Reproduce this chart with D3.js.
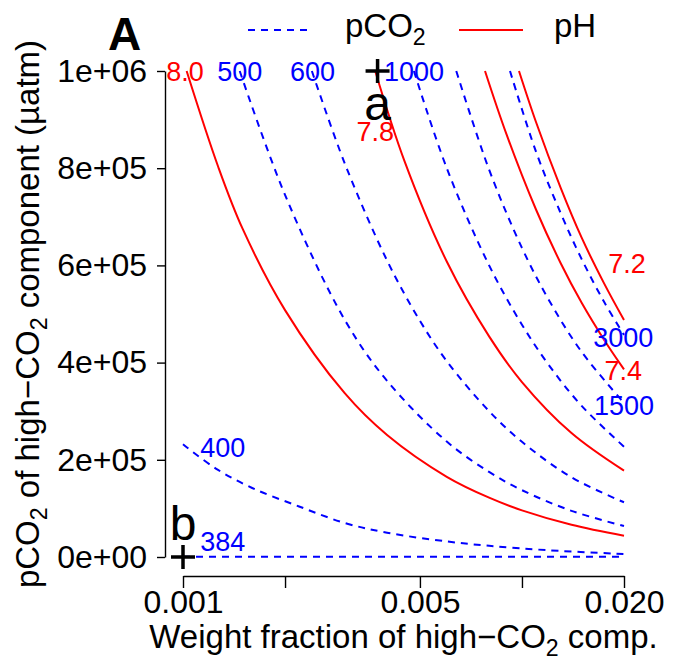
<!DOCTYPE html>
<html>
<head>
<meta charset="utf-8">
<script src="https://cdn.jsdelivr.net/npm/d3@7"></script>
<style>
  body { margin: 0; background: #fff; }
  svg { display: block; }
  text { font-family: "Liberation Sans", Arial, Helvetica, sans-serif; white-space: pre; }
</style>
</head>
<body>
<div id="my_dataviz"></div>
<script>
// axis ticks and labels
const xTicks = [0.001, 0.002, 0.005, 0.01, 0.02];
const xTickLabels = ["0.001", "", "0.005", "", "0.020"];
const yTicks = [0, 200000, 400000, 600000, 800000, 1000000];
const yTickLabels = ["0e+00", "2e+05", "4e+05", "6e+05", "8e+05", "1e+06"];

// pCO2 contours (weight fraction, pCO2 of high-CO2 component)
const w384 = [0.001, 0.02];
const p384 = [384, 384];
const w400 = [0.001, 0.00125, 0.0016, 0.0022, 0.003, 0.004, 0.006, 0.008, 0.012, 0.02];
const p400 = [232000, 182000, 142000, 104000, 70000, 50000, 32000, 23000, 13800, 6200];
const w500 = [0.00147, 0.002, 0.003, 0.004, 0.006, 0.008, 0.01, 0.014, 0.02];
const p500 = [1000000, 745000, 488000, 362500, 237500, 175000, 137500, 95000, 63800];
const w600 = [0.0024, 0.003, 0.004, 0.005, 0.006, 0.008, 0.01, 0.014, 0.02];
const p600 = [1000000, 810000, 610000, 486000, 403000, 300000, 237000, 164000, 112600];
const w1000 = [0.0048, 0.006, 0.008, 0.01, 0.012, 0.015, 0.02];
const p1000 = [1000000, 800000, 600000, 478000, 395000, 311000, 227000];
const w1500 = [0.0064, 0.008, 0.01, 0.012, 0.015, 0.02];
const p1500 = [1000000, 797000, 636000, 529000, 422000, 317000];
const w3000 = [0.00922, 0.011, 0.013, 0.015, 0.0175, 0.02];
const p3000 = [1000000, 834000, 708000, 613000, 524000, 457000];

// pH contours
const wPH80 = [0.001025, 0.00127, 0.0015, 0.002, 0.003, 0.004, 0.006, 0.008, 0.01, 0.014, 0.02];
const pPH80 = [1000000, 803000, 675000, 508000, 337000, 251000, 165000, 122000, 96000, 66400, 43800];
const wPH78 = [0.00369, 0.0045, 0.006, 0.008, 0.01, 0.014, 0.02];
const pPH78 = [1000000, 815000, 608000, 454000, 360000, 255000, 177600];
const wPH74 = [0.00778, 0.009, 0.011, 0.013, 0.015, 0.0175, 0.02];
const pPH74 = [1000000, 870000, 715000, 605000, 523000, 446000, 386000];
const wPH72 = [0.0098, 0.011, 0.013, 0.015, 0.0175, 0.02];
const pPH72 = [1000000, 895000, 760000, 657000, 562000, 487600];

// contour labels
const co2Labels = ["384", "400", "500", "600", "1000", "1500", "3000"];
const co2LabelW = [0.00131, 0.00131, 0.00147, 0.00241, 0.0048, 0.02, 0.0199];
const co2LabelP = [31500, 225300, 1000000, 1000000, 1000000, 312800, 452700];
const phLabels = ["8.0", "7.8", "7.4", "7.2"];
const phLabelW = [0.001014, 0.00369, 0.0199, 0.0204];
const phLabelP = [1000000, 875100, 384800, 605000];

// marked points
const markNames = ["a", "b"];
const markW = [0.00375, 0.001];
const markP = [1000000, 0];

const blue = "#0000FF", red = "#FF0000";
const zip = (w, p) => w.map((d, i) => [d, p[i]]);
const co2Lines = [zip(w384, p384), zip(w400, p400), zip(w500, p500), zip(w600, p600),
                  zip(w1000, p1000), zip(w1500, p1500), zip(w3000, p3000)];
const phLines = [zip(wPH80, pPH80), zip(wPH78, pPH78), zip(wPH74, pPH74), zip(wPH72, pPH72)];

// set the dimensions and margins of the graph
const margin = {top: 71, right: 55, bottom: 103, left: 183},
    width = 679 - margin.left - margin.right,
    height = 660 - margin.top - margin.bottom;

const root = d3.select("#my_dataviz")
  .append("svg")
    .attr("width", 679)
    .attr("height", 660);

const svg = root.append("g")
    .attr("transform", `translate(${margin.left},${margin.top})`);

const x = d3.scaleLog().domain([0.001, 0.02]).range([0, width]);
const y = d3.scaleLinear().domain([0, 1000000]).range([height, 0]);

// text with subscripts
function richText(t, parts, size) {
  parts.forEach(function(p, i) {
    const s = t.append("tspan").text(p[0]);
    if (p[1]) s.attr("font-size", size * 0.7).attr("dy", size * 0.25);
    else if (i > 0 && parts[i - 1][1]) s.attr("dy", -size * 0.25);
  });
}

// x axis
const gx = svg.append("g")
    .attr("transform", `translate(0,${height + 19})`)
    .call(d3.axisBottom(x).tickValues(xTicks)
      .tickFormat((d, i) => xTickLabels[i])
      .tickSize(12).tickSizeOuter(0).tickPadding(2));
gx.selectAll("text").style("font-size", "32px").attr("fill", "#000");

// y axis
const gy = svg.append("g")
    .attr("transform", "translate(-18,0)")
    .call(d3.axisLeft(y).tickValues(yTicks)
      .tickFormat((d, i) => yTickLabels[i])
      .tickSize(8).tickSizeOuter(0).tickPadding(10));
gy.selectAll("text").style("font-size", "32px").attr("fill", "#000");

root.selectAll(".domain, .tick line").attr("stroke", "#000").attr("stroke-width", 1.4);

// contour lines
const line = d3.line()
    .x(d => x(d[0]))
    .y(d => y(d[1]))
    .curve(d3.curveCatmullRom);

svg.selectAll(".co2").data(co2Lines).enter().append("path")
    .attr("class", "co2")
    .attr("d", line)
    .attr("fill", "none")
    .attr("stroke", blue)
    .attr("stroke-width", 2)
    .attr("stroke-dasharray", "7,6");

svg.selectAll(".ph").data(phLines).enter().append("path")
    .attr("class", "ph")
    .attr("d", line)
    .attr("fill", "none")
    .attr("stroke", red)
    .attr("stroke-width", 2);

// contour labels
svg.selectAll(".co2lab").data(co2Labels).enter().append("text")
    .attr("x", (d, i) => x(co2LabelW[i]))
    .attr("y", (d, i) => y(co2LabelP[i]))
    .attr("dy", "0.36em")
    .attr("text-anchor", "middle")
    .style("font-size", "27px")
    .attr("fill", blue)
    .text(d => d);

svg.selectAll(".phlab").data(phLabels).enter().append("text")
    .attr("x", (d, i) => x(phLabelW[i]))
    .attr("y", (d, i) => y(phLabelP[i]))
    .attr("dy", "0.36em")
    .attr("text-anchor", "middle")
    .style("font-size", "27px")
    .attr("fill", red)
    .text(d => d);

// marked points a and b
svg.selectAll(".mark").data(markNames).enter().append("path")
    .attr("transform", (d, i) => `translate(${x(markW[i])},${y(markP[i])})`)
    .attr("d", "M-12,0H12M0,-12V12")
    .attr("stroke", "#000")
    .attr("stroke-width", 3.5);

svg.selectAll(".markText").data(markNames).enter().append("text")
    .attr("x", (d, i) => x(markW[i]))
    .attr("y", (d, i) => y(markP[i]) + (i === 0 ? 49 : -17))
    .attr("text-anchor", "middle")
    .style("font-size", "48px")
    .text(d => d);

// axis titles
const xt = root.append("text")
    .attr("x", margin.left + width / 2)
    .attr("y", 648)
    .attr("text-anchor", "middle")
    .style("font-size", "33px");
richText(xt, [["Weight fraction of high\u2212CO"], ["2", true], [" comp."]], 33);

const yt = root.append("text")
    .attr("transform", `translate(39,${margin.top + height / 2}) rotate(-90)`)
    .attr("text-anchor", "middle")
    .style("font-size", "33px");
richText(yt, [["pCO"], ["2", true], [" of high\u2212CO"], ["2", true], [" component (\u00b5atm)"]], 33);

// panel letter
root.append("text")
    .attr("x", 108).attr("y", 50)
    .style("font-size", "46px")
    .style("font-weight", "bold")
    .text("A");

// legend
const legend = root.append("g");
legend.append("line")
    .attr("x1", 248).attr("x2", 312).attr("y1", 30).attr("y2", 30)
    .attr("stroke", blue).attr("stroke-width", 2).attr("stroke-dasharray", "7,6");
richText(legend.append("text").attr("x", 345).attr("y", 37).style("font-size", "33px"),
    [["pCO"], ["2", true]], 33);
legend.append("line")
    .attr("x1", 459).attr("x2", 523).attr("y1", 30).attr("y2", 30)
    .attr("stroke", red).attr("stroke-width", 2);
legend.append("text").attr("x", 554).attr("y", 37).style("font-size", "33px").text("pH");
</script>
</body>
</html>
